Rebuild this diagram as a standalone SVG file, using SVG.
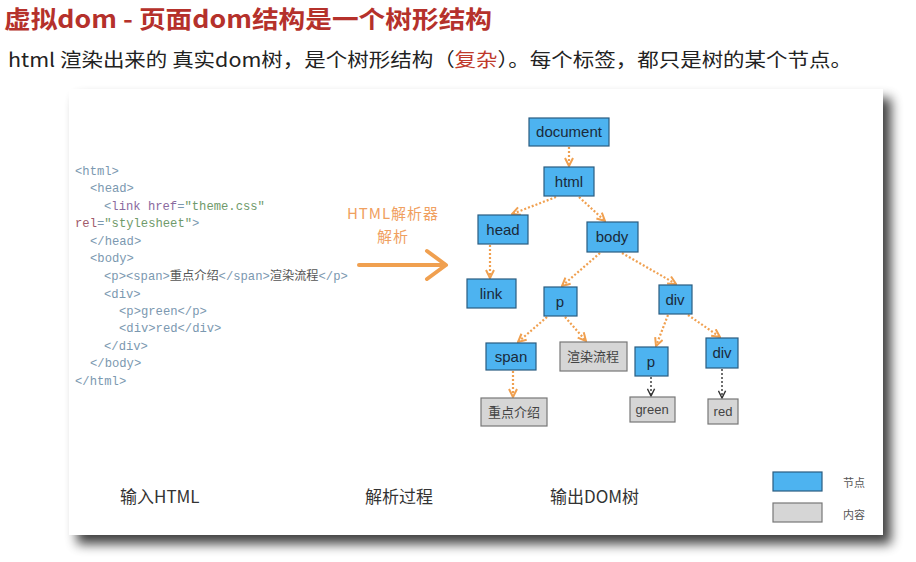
<svg xmlns="http://www.w3.org/2000/svg" width="916" height="562" viewBox="0 0 916 562">
<defs>
<filter id="sh" x="-10%" y="-10%" width="130%" height="130%">
<feGaussianBlur in="SourceAlpha" stdDeviation="6"/>
<feOffset dx="8" dy="9" result="b"/>
<feComponentTransfer><feFuncA type="linear" slope="0.75"/></feComponentTransfer>
<feMerge><feMergeNode/><feMergeNode in="SourceGraphic"/></feMerge>
</filter>
<marker id="ao" viewBox="0 0 10 10" refX="9" refY="5" markerWidth="10" markerHeight="10" markerUnits="userSpaceOnUse" orient="auto">
<path d="M1,1 L9,5 L1,9" fill="none" stroke="#f0a050" stroke-width="2"/>
</marker>
<marker id="ak" viewBox="0 0 10 10" refX="9" refY="5" markerWidth="9" markerHeight="9" markerUnits="userSpaceOnUse" orient="auto">
<path d="M1,1 L9,5 L1,9" fill="none" stroke="#333" stroke-width="1.6"/>
</marker>
</defs>
<style>
.title{font-family:"Noto Sans CJK SC","Noto Sans",sans-serif;font-weight:bold;font-size:24px;fill:#b5312b}
.sub{font-family:"Noto Sans CJK SC","Noto Sans",sans-serif;font-size:19px;fill:#222}
.code{font-family:"Liberation Mono","Noto Sans CJK SC",monospace;font-size:12.2px;fill:#7b98b0}
.at{fill:#8a6a9e}
.st{fill:#6f9a6a}
.cn{fill:#555}
.node{fill:#4db3f0;stroke:#2a5c80;stroke-width:1.2}
.leaf{fill:#d6d6d6;stroke:#777;stroke-width:1.2}
.nt{font-family:"Liberation Sans","Noto Sans CJK SC",sans-serif;font-size:15px;fill:#1a2a3a;text-anchor:middle}
.lt{font-family:"Liberation Sans","Noto Sans CJK SC",sans-serif;font-size:13px;fill:#444;text-anchor:middle}
.eo{fill:none;stroke:#f0a050;stroke-width:2.2;stroke-dasharray:2 2;marker-end:url(#ao)}
.ek{fill:none;stroke:#333;stroke-width:1.4;stroke-dasharray:2 2;marker-end:url(#ak)}
.cap{font-family:"Noto Sans CJK SC",sans-serif;font-size:17px;fill:#333}
.leg{font-family:"Noto Sans CJK SC",sans-serif;font-size:11px;fill:#555}
.orange{font-family:"Noto Sans CJK SC",sans-serif;font-size:15px;fill:#f0a060;text-anchor:middle;letter-spacing:1px}
</style>
<rect width="916" height="562" fill="#fff"/>
<text class="title" x="4" y="28" textLength="488" lengthAdjust="spacingAndGlyphs">虚拟dom - 页面dom结构是一个树形结构</text>
<text class="sub" x="8" y="67" textLength="844" lengthAdjust="spacingAndGlyphs">html  渲染出来的 真实dom树，是个树形结构（<tspan fill="#c0392b">复杂</tspan>）。每个标签，都只是树的某个节点。</text>
<rect x="69" y="89" width="814" height="446" fill="#fff" filter="url(#sh)"/>
<g id="code">
<text class="code" x="75" y="175">&lt;html&gt;</text>
<text class="code" x="90" y="192">&lt;head&gt;</text>
<text class="code" x="104" y="210">&lt;<tspan class="at">link href</tspan>=<tspan class="st">"theme.css"</tspan></text>
<text class="code" x="75" y="227"><tspan fill="#a05a6a">rel</tspan>=<tspan class="st">"stylesheet"</tspan>&gt;</text>
<text class="code" x="90" y="245">&lt;/head&gt;</text>
<text class="code" x="90" y="262">&lt;body&gt;</text>
<text class="code" x="104" y="280">&lt;p&gt;&lt;span&gt;<tspan class="cn">重点介绍</tspan>&lt;/span&gt;<tspan class="cn">渲染流程</tspan>&lt;/p&gt;</text>
<text class="code" x="104" y="298">&lt;div&gt;</text>
<text class="code" x="119" y="315">&lt;p&gt;green&lt;/p&gt;</text>
<text class="code" x="119" y="332">&lt;div&gt;red&lt;/div&gt;</text>
<text class="code" x="104" y="350">&lt;/div&gt;</text>
<text class="code" x="90" y="367">&lt;/body&gt;</text>
<text class="code" x="75" y="385">&lt;/html&gt;</text>
</g>
<g id="parser">
<text class="orange" x="393" y="219">HTML解析器</text>
<text class="orange" x="393" y="242">解析</text>
<path d="M359,265 L444,265" stroke="#f0a050" stroke-width="4" fill="none" stroke-linecap="round"/>
<path d="M427,251 L446,265 L427,279" stroke="#f0a050" stroke-width="4" fill="none" stroke-linecap="round" stroke-linejoin="round"/>
</g>
<g id="connectors">
<path class="eo" d="M569,147 L569,166"/>
<path class="eo" d="M556,197 L512,214"/>
<path class="eo" d="M579,197 L605,221"/>
<path class="eo" d="M490,245 L490,278"/>
<path class="eo" d="M600,253 L562,286"/>
<path class="eo" d="M622,253 L676,284"/>
<path class="eo" d="M547,317 L518,342"/>
<path class="eo" d="M565,317 L586,341"/>
<path class="eo" d="M668,315 L656,346"/>
<path class="eo" d="M688,315 L720,337"/>
<path class="eo" d="M513,371 L513,397"/>
<path class="ek" d="M651,377 L651,396"/>
<path class="ek" d="M722,369 L722,398"/>
</g>
<g id="n-document"><rect class="node" x="529" y="118" width="80" height="28"/><text class="nt" x="569" y="137">document</text></g>
<g id="n-html"><rect class="node" x="544" y="167" width="50" height="29"/><text class="nt" x="569" y="187">html</text></g>
<g id="n-head"><rect class="node" x="478" y="215" width="50" height="29"/><text class="nt" x="503" y="235">head</text></g>
<g id="n-body"><rect class="node" x="587" y="222" width="51" height="30"/><text class="nt" x="612" y="242">body</text></g>
<g id="n-link"><rect class="node" x="467" y="279" width="49" height="29"/><text class="nt" x="491" y="299">link</text></g>
<g id="n-p"><rect class="node" x="544" y="287" width="33" height="29"/><text class="nt" x="560" y="307">p</text></g>
<g id="n-div"><rect class="node" x="659" y="285" width="33" height="29"/><text class="nt" x="675" y="305">div</text></g>
<g id="n-span"><rect class="node" x="486" y="343" width="50" height="27"/><text class="nt" x="511" y="362">span</text></g>
<g id="n-render"><rect class="leaf" x="560" y="342" width="67" height="29"/><text class="lt" x="593" y="361">渲染流程</text></g>
<g id="n-p2"><rect class="node" x="635" y="347" width="33" height="29"/><text class="nt" x="651" y="367">p</text></g>
<g id="n-div2"><rect class="node" x="706" y="338" width="32" height="30"/><text class="nt" x="722" y="358">div</text></g>
<g id="n-intro"><rect class="leaf" x="481" y="398" width="66" height="28"/><text class="lt" x="514" y="417">重点介绍</text></g>
<g id="n-green"><rect class="leaf" x="630" y="397" width="45" height="25"/><text class="lt" x="652" y="414">green</text></g>
<g id="n-red"><rect class="leaf" x="708" y="399" width="30" height="25"/><text class="lt" x="723" y="416">red</text></g>
<g id="captions">
<text class="cap" x="120" y="503">输入HTML</text>
<text class="cap" x="365" y="503">解析过程</text>
<text class="cap" x="550" y="503">输出DOM树</text>
</g>
<g id="legend">
<rect class="node" x="773" y="472" width="49" height="19"/>
<text class="leg" x="843" y="487">节点</text>
<rect class="leaf" x="773" y="503" width="49" height="19"/>
<text class="leg" x="843" y="519">内容</text>
</g>
</svg>
